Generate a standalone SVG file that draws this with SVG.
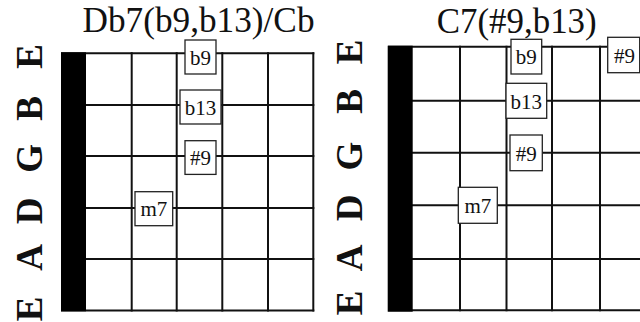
<svg xmlns="http://www.w3.org/2000/svg" width="640" height="322" viewBox="0 0 640 322">
  <style>
    .title { font-family: "Liberation Serif", "Times New Roman", serif; font-size: 35px; fill: #111; text-anchor: middle; }
    .str { font-family: "Liberation Serif", "Times New Roman", serif; font-size: 37px; font-weight: bold; fill: #111; text-anchor: middle; }
    .grid line { stroke: #111; stroke-width: 2; }
    .nut { fill: #000; }
    .tone rect { fill: #fff; stroke: #222; stroke-width: 1.3; }
    .tone text { font-family: "Liberation Serif", "Times New Roman", serif; font-size: 21px; fill: #111; text-anchor: middle; }
  </style>
  <rect width="640" height="322" fill="#fff"/>

  <!-- left chart: Db7(b9,b13)/Cb -->
  <g id="chart-left">
    <text class="title" x="198.5" y="32" textLength="232" lengthAdjust="spacingAndGlyphs">Db7(b9,b13)/Cb</text>
    <g id="strings-left">
      <text class="str" transform="translate(41.5,56.3) rotate(-90)">E</text>
      <text class="str" transform="translate(41.5,108.3) rotate(-90)">B</text>
      <text class="str" transform="translate(41.5,158.3) rotate(-90)">G</text>
      <text class="str" transform="translate(41.5,210.8) rotate(-90)">D</text>
      <text class="str" transform="translate(41.5,257.5) rotate(-90)">A</text>
      <text class="str" transform="translate(41.5,309) rotate(-90)">E</text>
    </g>
    <g class="grid" id="grid-left">
      <line x1="61" y1="53.3" x2="314.3" y2="53.3"/>
      <line x1="61" y1="105" x2="314.3" y2="105"/>
      <line x1="61" y1="156" x2="314.3" y2="156"/>
      <line x1="61" y1="208" x2="314.3" y2="208"/>
      <line x1="61" y1="259" x2="314.3" y2="259"/>
      <line x1="61" y1="310.5" x2="314.3" y2="310.5"/>
      <line x1="131.7" y1="52.3" x2="131.7" y2="311.5"/>
      <line x1="176.7" y1="52.3" x2="176.7" y2="311.5"/>
      <line x1="222.3" y1="52.3" x2="222.3" y2="311.5"/>
      <line x1="268" y1="52.3" x2="268" y2="311.5"/>
      <line x1="313.3" y1="52.3" x2="313.3" y2="311.5"/>
    </g>
    <rect class="nut" x="61" y="52.3" width="25" height="259"/>
    <g class="tone" id="left-b9"><rect x="185" y="40" width="31" height="34"/><text x="200.5" y="65">b9</text></g>
    <g class="tone" id="left-b13"><rect x="180" y="90" width="41" height="34"/><text x="200.5" y="114.5">b13</text></g>
    <g class="tone" id="left-s9"><rect x="185" y="140.7" width="31" height="33.7"/><text x="200.5" y="165">#9</text></g>
    <g class="tone" id="left-m7"><rect x="135" y="191.7" width="37.7" height="34"/><text x="153.8" y="216">m7</text></g>
  </g>

  <!-- right chart: C7(#9,b13) -->
  <g id="chart-right">
    <text class="title" x="516.7" y="33" textLength="160" lengthAdjust="spacingAndGlyphs">C7(#9,b13)</text>
    <g id="strings-right">
      <text class="str" transform="translate(361.7,52) rotate(-90)">E</text>
      <text class="str" transform="translate(361.7,101.5) rotate(-90)">B</text>
      <text class="str" transform="translate(361.7,156) rotate(-90)">G</text>
      <text class="str" transform="translate(361.7,208) rotate(-90)">D</text>
      <text class="str" transform="translate(361.7,258) rotate(-90)">A</text>
      <text class="str" transform="translate(361.7,303) rotate(-90)">E</text>
    </g>
    <g class="grid" id="grid-right">
      <line x1="388" y1="46.7" x2="640" y2="46.7"/>
      <line x1="388" y1="100.7" x2="640" y2="100.7"/>
      <line x1="388" y1="152.7" x2="640" y2="152.7"/>
      <line x1="388" y1="205.2" x2="640" y2="205.2"/>
      <line x1="388" y1="259" x2="640" y2="259"/>
      <line x1="388" y1="310.3" x2="640" y2="310.3"/>
      <line x1="460" y1="45.7" x2="460" y2="311.3"/>
      <line x1="506.5" y1="45.7" x2="506.5" y2="311.3"/>
      <line x1="552" y1="45.7" x2="552" y2="311.3"/>
      <line x1="600" y1="45.7" x2="600" y2="311.3"/>
    </g>
    <rect class="nut" x="387.7" y="45.7" width="25" height="266"/>
    <g class="tone" id="right-b9"><rect x="511" y="39.3" width="30.7" height="34.7"/><text x="526.3" y="64">b9</text></g>
    <g class="tone" id="right-s9-top"><rect x="607.7" y="37.3" width="32" height="35.4"/><text x="624.5" y="62.5">#9</text></g>
    <g class="tone" id="right-b13"><rect x="506" y="83.3" width="40.7" height="35"/><text x="526.3" y="108.5">b13</text></g>
    <g class="tone" id="right-s9"><rect x="510" y="135" width="32.3" height="35.7"/><text x="526.2" y="160.5">#9</text></g>
    <g class="tone" id="right-m7"><rect x="458.3" y="187.3" width="39" height="36"/><text x="477.8" y="213">m7</text></g>
  </g>
</svg>
